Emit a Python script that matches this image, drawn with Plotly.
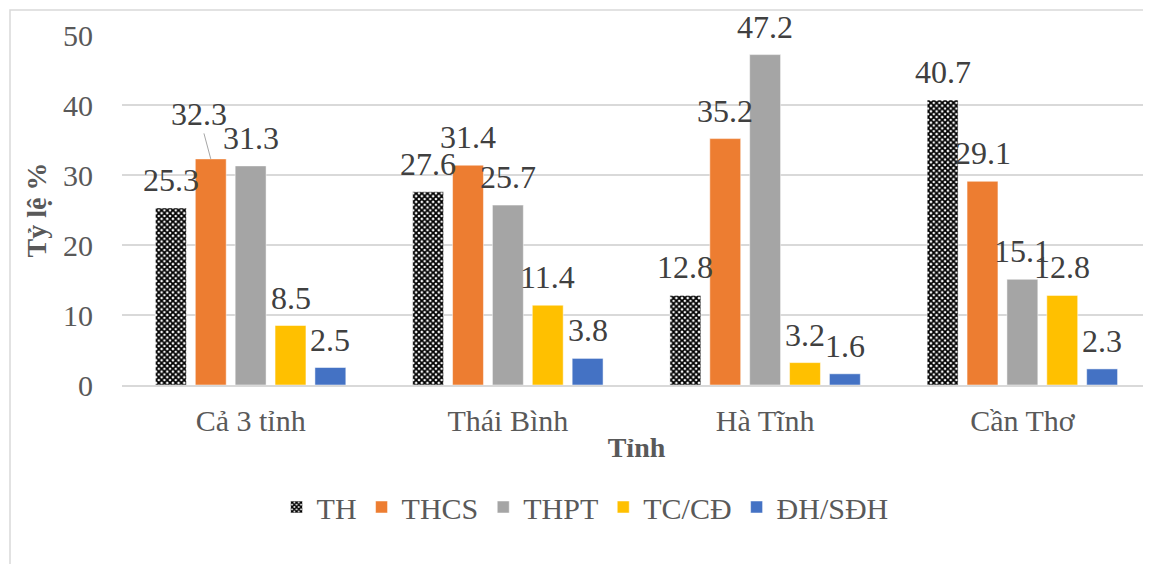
import plotly.graph_objects as go

# ---------------------------------------------------
# DATA
# ---------------------------------------------------

categories = ["Cả 3 tỉnh", "Thái Bình", "Hà Tĩnh", "Cần Thơ"]
series_names = ["TH", "THCS", "THPT", "TC/CĐ", "ĐH/SĐH"]

th = [25.3, 27.6, 12.8, 40.7]
thcs = [32.3, 31.4, 35.2, 29.1]
thpt = [31.3, 25.7, 47.2, 15.1]
tc_cd = [8.5, 11.4, 3.2, 12.8]
dh_sdh = [2.5, 3.8, 1.6, 2.3]

y_ticks = [0, 10, 20, 30, 40, 50]

# ---------------------------------------------------
# STYLE
# ---------------------------------------------------

FONT = "Times New Roman, Liberation Serif, serif"
colors = [None, "#ED7D31", "#A5A5A5", "#FFC000", "#4472C4"]
BARGAP = 0.225
GROUPGAP = 0.225

# page body keeps an 8px margin, so the figure is 8px smaller
W, H = 1143, 556
ML, MR, MT, MB = 114, 0, 27, 179
PW = W - ML - MR
PH = H - MT - MB

all_series = [th, thcs, thpt, tc_cd, dh_sdh]
n = len(all_series)
slot = (1 - BARGAP) / n

fig = go.Figure()

for i, (name, vals) in enumerate(zip(series_names, all_series)):
    if i == 0:
        marker = dict(
            color="black",
            pattern=dict(shape="x", fgcolor="black", bgcolor="white",
                         size=4, solidity=0.7, fillmode="replace"),
            line=dict(color="white", width=0.5),
        )
    else:
        marker = dict(color=colors[i], line=dict(color="white", width=0.5))
    fig.add_trace(go.Bar(x=categories, y=vals, name=name, marker=marker))

# ---------------------------------------------------
# DATA LABELS
# ---------------------------------------------------

annotations = []
for i, vals in enumerate(all_series):
    for j, v in enumerate(vals):
        xpos = j + (i - (n - 1) / 2) * slot
        if i == 1 and j == 0:
            # moved label with leader line
            annotations.append(dict(
                x=xpos, y=v, text=f"{v}", showarrow=True,
                ax=-12, ay=-45, arrowhead=0, arrowwidth=1,
                arrowcolor="#A6A6A6", standoff=0,
                font=dict(family=FONT, size=32, color="#404040"),
            ))
        else:
            annotations.append(dict(
                x=xpos, y=v, text=f"{v}", showarrow=False,
                yshift=28, yanchor="middle",
                font=dict(family=FONT, size=32, color="#404040"),
            ))

# ---------------------------------------------------
# LAYOUT
# ---------------------------------------------------

fig.update_layout(
    width=W,
    height=H,
    autosize=False,
    margin=dict(l=ML, r=MR, t=MT, b=MB, pad=0, autoexpand=False),
    paper_bgcolor="white",
    plot_bgcolor="white",
    barmode="group",
    bargap=BARGAP,
    bargroupgap=GROUPGAP,
    font=dict(family=FONT, color="#595959"),
    annotations=annotations,
    legend=dict(
        orientation="h",
        x=0.45,
        xanchor="center",
        y=-(499 - (MT + PH)) / PH,
        yanchor="middle",
        font=dict(family=FONT, size=30, color="#595959"),
        itemwidth=30,
    ),
    shapes=[dict(
        type="rect", xref="paper", yref="paper",
        x0=(2 - ML) / PW, x1=1.05,
        y0=-1, y1=1 + (MT - 2) / PH,
        line=dict(color="#D9D9D9", width=1.5),
        fillcolor="rgba(0,0,0,0)", layer="below",
    )],
)

fig.update_xaxes(
    showgrid=False,
    showline=True,
    linecolor="#D9D9D9",
    linewidth=1.5,
    ticks="",
    ticklabelstandoff=8,
    tickfont=dict(family=FONT, size=30, color="#595959"),
    title=dict(text="<b>Tỉnh</b>", font=dict(family=FONT, size=28, color="#595959"),
               standoff=2),
)

fig.update_yaxes(
    range=[0, 50],
    tickvals=y_ticks,
    showgrid=True,
    gridcolor="#D9D9D9",
    gridwidth=1.5,
    zeroline=False,
    showline=False,
    ticks="",
    ticklabelstandoff=28,
    tickfont=dict(family=FONT, size=30, color="#595959"),
    title=dict(text="<b>Tỷ lệ %</b>", font=dict(family=FONT, size=28, color="#595959"),
               standoff=8),
)

fig.write_html("out.html")
